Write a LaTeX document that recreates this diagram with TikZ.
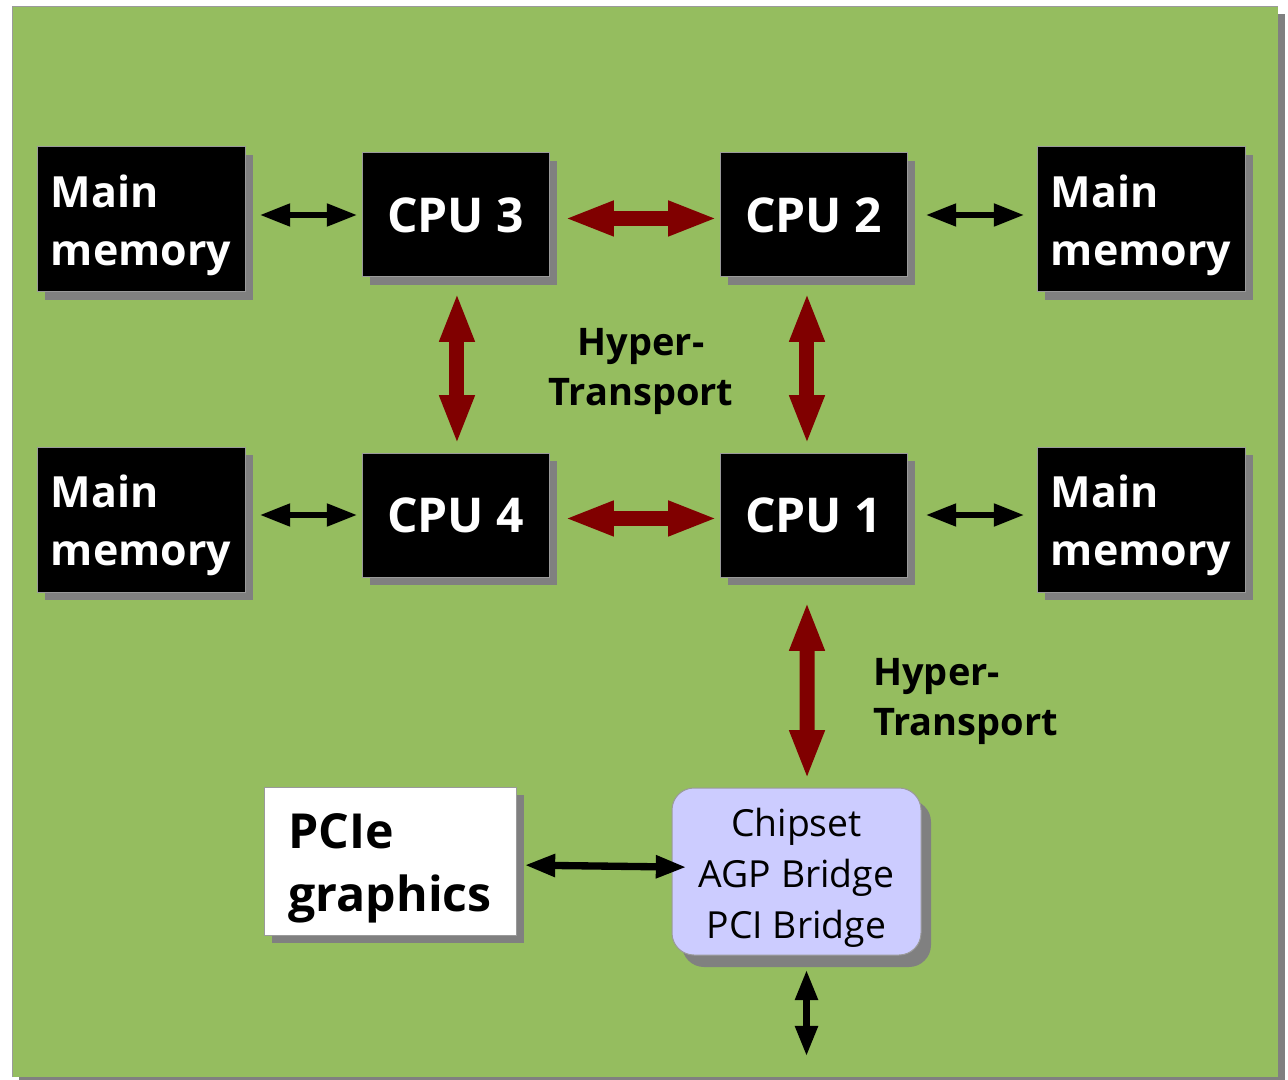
\documentclass[tikz,border=0pt]{standalone}
\usepackage{fontspec}
\setmainfont{Open Sans}
\usetikzlibrary{arrows.meta,shadows,calc}

\definecolor{boardgreen}{HTML}{95BD5F}
\definecolor{linkred}{HTML}{800000}
\definecolor{chipfill}{HTML}{CCCCFF}
\definecolor{shadowgray}{HTML}{808080}
\definecolor{edgegray}{HTML}{9A9A9A}

% stacked lines of text, drawn #2 lower while keeping their box size
\newcommand{\stackedlines}[3]{\raisebox{#2}[\height][\depth]{\begin{tabular}{@{}#1@{}}#3\end{tabular}}}

\tikzset{
  boxshadow/.style={general shadow={shadow xshift=6pt, shadow yshift=-6pt, fill=shadowgray}},
  memorybox/.style={boxshadow, fill=black, draw=edgegray, line width=0.75pt,
    minimum width=156pt, minimum height=108.75pt, inner sep=0pt,
    text=white, font=\bfseries\fontsize{32.2pt}{43.5pt}\selectfont},
  cpubox/.style={boxshadow, fill=black, draw=edgegray, line width=0.75pt,
    minimum width=140.25pt, minimum height=93pt, inner sep=0pt,
    text=white, font=\bfseries\fontsize{36pt}{44pt}\selectfont},
  gfxbox/.style={boxshadow, fill=white, draw=edgegray, line width=0.75pt,
    minimum width=189pt, minimum height=111pt, inner sep=0pt,
    font=\bfseries\fontsize{36.2pt}{47.25pt}\selectfont},
  chipbox/.style={general shadow={shadow xshift=7.5pt, shadow yshift=-9pt, fill=shadowgray},
    fill=chipfill, draw=edgegray, line width=0.75pt, rounded corners=16.5pt,
    minimum width=186.75pt, minimum height=125.25pt, inner sep=0pt,
    font=\fontsize{28pt}{38.25pt}\selectfont},
  linklabel/.style={inner sep=0pt, font=\bfseries\fontsize{28.5pt}{37.5pt}\selectfont},
  memlink/.style={draw=black, line width=5pt,
    {Triangle[length=23pt, width=16pt]}-{Triangle[length=23pt, width=16pt]}},
  buslink/.style={draw=black, line width=5.5pt,
    {Triangle[length=23pt, width=16pt]}-{Triangle[length=23pt, width=16pt]}},
  htlink/.style={draw=linkred, line width=11.25pt,
    {Triangle[length=37pt, width=24pt]}-{Triangle[length=37pt, width=24pt]}},
}

\begin{document}
\begin{tikzpicture}[x=0.75pt, y=-0.75pt]
  \useasboundingbox (0,0) rectangle (1288,1080);

  % board background
  \fill[shadowgray] (19,14) rectangle (1285,1084);
  \fill[boardgreen] (12,7) rectangle (1278,1077);
  \draw[edgegray, line width=0.75pt] (12,1077) -- (12,7) -- (1278,7);

  % processors
  \node[cpubox] (cpu3) at (455.5,215) {CPU 3};
  \node[cpubox] (cpu2) at (813.5,215) {CPU 2};
  \node[cpubox] (cpu4) at (455.5,515) {CPU 4};
  \node[cpubox] (cpu1) at (813.5,515) {CPU 1};

  % memory banks
  \node[memorybox] (mem3) at (141,219.5) {\stackedlines{l}{-4pt}{Main\\memory}};
  \node[memorybox] (mem2) at (1141,219.5) {\stackedlines{l}{-4pt}{Main\\memory}};
  \node[memorybox] (mem4) at (141,519.5) {\stackedlines{l}{-4pt}{Main\\memory}};
  \node[memorybox] (mem1) at (1141,519.5) {\stackedlines{l}{-4pt}{Main\\memory}};

  % graphics card and chipset
  \node[gfxbox] (gfx) at (390,861) {\stackedlines{l}{-4.5pt}{PCIe\\graphics}};
  \node[chipbox] (chip) at (796.5,871.5) {\stackedlines{c}{-4.5pt}{Chipset\\AGP Bridge\\PCI Bridge}};

  % HyperTransport labels
  \node[linklabel, align=center] (ht1) at (641,372) {Hyper-\\Transport};
  \node[linklabel, align=left, anchor=west] (ht2) at (873,701) {Hyper-\\Transport};

  % memory links
  \draw[memlink, shorten <=10.5pt, shorten >=3pt] (mem3.east |- cpu3.west) -- (cpu3.west);
  \draw[memlink, shorten <=13.5pt, shorten >=9pt] (cpu2.east) -- (cpu2.east -| mem2.west);
  \draw[memlink, shorten <=10.5pt, shorten >=3pt] (mem4.east |- cpu4.west) -- (cpu4.west);
  \draw[memlink, shorten <=13.5pt, shorten >=9pt] (cpu1.east) -- (cpu1.east -| mem1.west);

  % HyperTransport links between processors
  \draw[htlink, shorten <=11.25pt, shorten >=1.5pt] ([yshift=-2.6pt]cpu3.east) -- ([yshift=-2.6pt]cpu2.west);
  \draw[htlink, shorten <=11.25pt, shorten >=1.5pt] ([yshift=-2.6pt]cpu4.east) -- ([yshift=-2.6pt]cpu1.west);
  \draw[htlink, shorten <=11.25pt, shorten >=6pt] ([xshift=1.1pt]cpu3.south) -- ([xshift=1.1pt]cpu4.north);
  \draw[htlink, shorten <=11.25pt, shorten >=6pt] ([xshift=-4.9pt]cpu2.south) -- ([xshift=-4.9pt]cpu1.north);
  \draw[htlink, shorten <=18pt, shorten >=6pt] ([xshift=-4.9pt]cpu1.south) -- ([xshift=7.9pt]chip.north);

  % chipset buses
  \draw[buslink, shorten <=6pt, shorten >=-11.25pt] ([yshift=-3pt]gfx.east) -- ([yshift=3.4pt]chip.west);
  \coordinate (pcibus) at ($(chip.south)+(10,98)$);
  \draw[buslink, shorten <=10.5pt, shorten >=-2.25pt] ([xshift=7.5pt]chip.south) -- (pcibus);
\end{tikzpicture}
\end{document}
